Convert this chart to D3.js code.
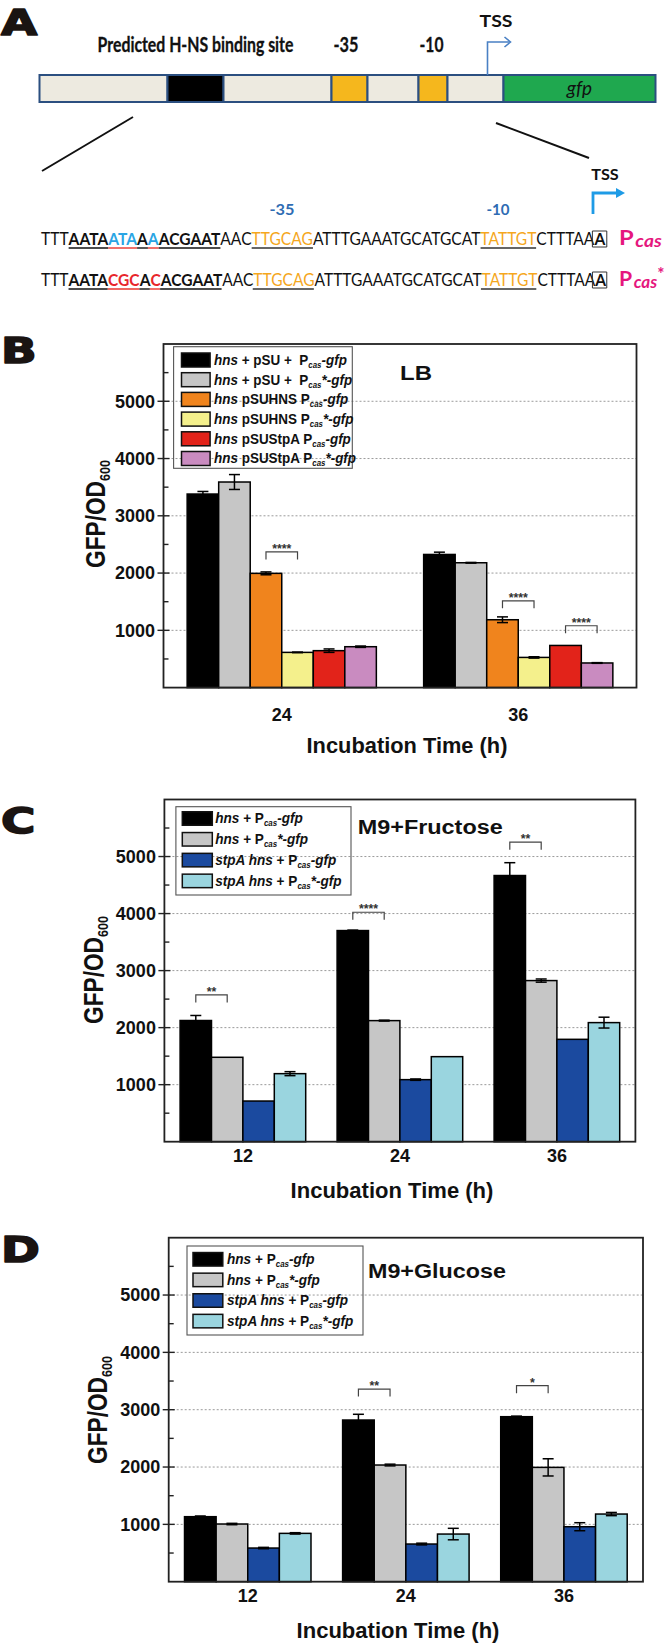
<!DOCTYPE html>
<html><head><meta charset="utf-8">
<script src="https://cdn.jsdelivr.net/npm/d3@7"></script>
<style>body{margin:0;background:#fff} svg{display:block} text{white-space:pre}</style>
</head><body><svg id="fig" width="666" height="1645"></svg>
<script>
// ================= DATA =================
// Panel A: promoter map (region lengths, arbitrary units)
const promoterParts   = ["spacer","hns","spacer","box35","spacer","box10","spacer","gfp"];
const promoterLengths = [128, 56, 108, 36, 51, 29, 56, 152];
const tssPosition = 448;
const sequenceWT = [["TTT","plain"],["AATA","site"],["ATA","siteWT"],["A","site"],["A","siteWT"],["ACGAAT","site"],
  ["AAC","plain"],["TTGCAG","motif"],["ATTTGAAATGCATGCAT","plain"],["TATTGT","motif"],["CTTTAA","plain"],["A","tss"]];
const sequenceMut = [["TTT","plain"],["AATA","site"],["CGC","siteMut"],["A","site"],["C","siteMut"],["ACGAAT","site"],
  ["AAC","plain"],["TTGCAG","motif"],["ATTTGAAATGCATGCAT","plain"],["TATTGT","motif"],["CTTTAA","plain"],["A","tss"]];

// Panel B: LB
const lbTimes = ["24","36"];
const lbStrains = ["<i>hns</i> + pSU +  P<sub>cas</sub><i>-gfp</i>","<i>hns</i> + pSU +  P<sub>cas</sub><i>*-gfp</i>",
  "<i>hns</i> pSUHNS P<sub>cas</sub><i>-gfp</i>","<i>hns</i> pSUHNS P<sub>cas</sub><i>*-gfp</i>",
  "<i>hns</i> pSUStpA P<sub>cas</sub><i>-gfp</i>","<i>hns</i> pSUStpA P<sub>cas</sub><i>*-gfp</i>"];
const lbMean = [[3380,3590,1995,615,645,714],[2325,2180,1185,527,736,430]];
const lbErr  = [[45,130,25,5,30,12],[40,6,50,12,0,6]];
const lbSig  = [[0,2,3,2370,"****"],[1,2,3,1516,"****"],[1,4,5,1080,"****"]];

// Panels C, D: M9
const m9Times = ["12","24","36"];
const m9Strains = ["<i>hns</i> + P<sub>cas</sub><i>-gfp</i>","<i>hns</i> + P<sub>cas</sub><i>*-gfp</i>",
  "<i>stpA hns</i> + P<sub>cas</sub><i>-gfp</i>","<i>stpA hns</i> + P<sub>cas</sub><i>*-gfp</i>"];
const fructoseMean = [[2125,1480,713,1193],[3702,2123,1088,1491],[4667,2825,1795,2088]];
const fructoseErr  = [[88,0,0,35],[8,8,12,0],[225,28,0,95]];
const fructoseSig  = [[0,0,1,2573,"**"],[1,0,1,4023,"****"],[2,0,1,5251,"**"]];
const glucoseMean = [[1134,1006,587,843],[2820,2035,657,831],[2878,1994,959,1180]];
const glucoseErr  = [[12,12,12,12],[100,15,15,100],[10,150,70,28]];
const glucoseSig  = [[1,0,1,3360,"**"],[2,0,1,3419,"*"]];

const yTicks = [1000,2000,3000,4000,5000];
const yMinorTicks = [500,1500,2500,3500,4500,5500];
const yDomain = [0,6000];

// ================= STYLE =================
const SANS = "'Liberation Sans', Arial, sans-serif";
const HUM = "Lato, 'Open Sans', sans-serif";
const partColor = {spacer:"#edeae0", hns:"#000000", box35:"#f5b71d", box10:"#f5b71d", gfp:"#1fa84f"};
const lbColors = ["#000000","#c6c6c6","#f0841d","#f4f08c","#e2231a","#c98bc0"];
const m9Colors = ["#000000","#c6c6c6","#1b4a9f","#9ad5df"];
const seqStyle = {
  plain:{c:"#111",b:false,u:null}, site:{c:"#111",b:true,u:"#111"},
  siteWT:{c:"#2aa5e4",b:true,u:"#e8342c"}, siteMut:{c:"#e8262b",b:true,u:"#e8342c"},
  motif:{c:"#f5a71d",b:false,u:"#333"}, tss:{c:"#111",b:true,u:null,box:true}
};

const svg = d3.select("#fig");

function squeeze(sel, k, ax, ay) {
  ay = ay || 0;
  sel.attr("transform", `translate(${ax},${ay}) scale(${k},1) translate(${-ax},${-ay})`);
}
function fitWidth(sel, target, ax) {
  const w = sel.node().getComputedTextLength();
  const k = target / w;
  squeeze(sel, k, ax);
  return k;
}
function addRich(t, markup, size, subSize, subDy) {
  const parts = markup.split(/(<i>.*?<\/i>|<sub>.*?<\/sub>)/).filter(s => s.length);
  let shifted = false;
  parts.forEach(p => {
    let s = p, it = false, sub = false;
    if (p.startsWith("<i>")) { s = p.slice(3, -4); it = true; }
    else if (p.startsWith("<sub>")) { s = p.slice(5, -6); it = true; sub = true; }
    const ts = t.append("tspan").text(s).attr("font-style", it ? "italic" : "normal")
      .attr("font-size", sub ? subSize : size);
    if (sub && !shifted) { ts.attr("dy", subDy); shifted = true; }
    else if (!sub && shifted) { ts.attr("dy", -subDy); shifted = false; }
  });
}
function panelLetter(letter, y) {
  const t = svg.append("text").attr("x", 1).attr("y", y).text(letter)
    .attr("font-family", "'DejaVu Sans', sans-serif").attr("font-weight", "bold").attr("font-size", 36)
    .attr("fill", "#1a1412").attr("stroke", "#1a1412").attr("stroke-width", 1.6).attr("stroke-linejoin", "round");
  squeeze(t, 1.3, 1, 0);
}

// ================= PANEL A =================
panelLetter("A", 35);
const ax = d3.scaleLinear().domain([0, d3.sum(promoterLengths)]).range([39.5, 655.5]);
const cum = d3.cumsum(promoterLengths);
const starts = promoterLengths.map((d, i) => cum[i] - d);
const gA = svg.append("g");
gA.selectAll("rect.part").data(promoterParts).join("rect").attr("class", "part")
  .attr("x", (d, i) => ax(starts[i])).attr("y", 75)
  .attr("width", (d, i) => ax(cum[i]) - ax(starts[i])).attr("height", 27)
  .attr("fill", d => partColor[d]).attr("stroke", "#2b4f80").attr("stroke-width", 2);
const mid = i => (ax(starts[i]) + ax(cum[i])) / 2;
gA.append("text").attr("x", mid(7)).attr("y", 95).attr("text-anchor", "middle").text("gfp")
  .attr("font-family", HUM).attr("font-style", "italic").attr("font-size", 19).attr("fill", "#111");
const topLabels = [[1, "Predicted H-NS binding site", 196, 0], [3, "-35", 25, -3.5], [5, "-10", 24, -1.5]];
topLabels.forEach(([i, s, w, off]) => {
  const cx = mid(i) + off;
  const t = gA.append("text").attr("x", cx).attr("y", 52).attr("text-anchor", "middle").text(s)
    .attr("font-family", HUM).attr("font-weight", "bold").attr("font-size", 20).attr("fill", "#111")
    .attr("stroke", "#111").attr("stroke-width", 0.3);
  fitWidth(t, w, cx);
});
// upper TSS arrow
const tx = ax(tssPosition);
gA.append("path").attr("d", `M${tx},75V42H${tx + 22}`).attr("fill", "none").attr("stroke", "#4a80c4").attr("stroke-width", 1.6);
gA.append("path").attr("d", `M${tx + 17},37L${tx + 23},42L${tx + 17},47`).attr("fill", "none").attr("stroke", "#4a80c4").attr("stroke-width", 1.6);
const tssU = gA.append("text").attr("x", 496).attr("y", 27).attr("text-anchor", "middle").text("TSS")
  .attr("font-family", HUM).attr("font-weight", "bold").attr("font-size", 17).attr("fill", "#111");
fitWidth(tssU, 33, 496);
// zoom lines
gA.append("line").attr("x1", 133).attr("y1", 117).attr("x2", 42).attr("y2", 171).attr("stroke", "#111").attr("stroke-width", 2);
gA.append("line").attr("x1", 496).attr("y1", 123).attr("x2", 589).attr("y2", 158).attr("stroke", "#111").attr("stroke-width", 2);
// lower TSS arrow
gA.append("path").attr("d", "M593,214V193H618").attr("fill", "none").attr("stroke", "#1e9be6").attr("stroke-width", 2.8);
gA.append("path").attr("d", "M616,188L625,193L616,198Z").attr("fill", "#1e9be6");
const tssL = gA.append("text").attr("x", 605).attr("y", 180).attr("text-anchor", "middle").text("TSS")
  .attr("font-family", HUM).attr("font-weight", "bold").attr("font-size", 16).attr("fill", "#111");
fitWidth(tssL, 27.5, 605);
[["-35", 282, 25], ["-10", 498, 23]].forEach(([s, x, w]) => {
  const t = gA.append("text").attr("x", x).attr("y", 215).attr("text-anchor", "middle").text(s)
    .attr("font-family", HUM).attr("font-weight", "bold").attr("font-size", 15).attr("fill", "#2e6cb3");
  fitWidth(t, w, x);
});

function seqLine(segs, baseline, star) {
  const g = svg.append("g");
  const t = g.append("text").attr("x", 41).attr("y", baseline)
    .attr("font-family", HUM).attr("font-size", 17.5);
  segs.forEach(([s, kind]) => t.append("tspan").text(s).attr("fill", seqStyle[kind].c)
    .attr("font-weight", seqStyle[kind].b ? "bold" : "normal"));
  const node = t.node();
  const natural = node.getComputedTextLength();
  let idx = 0;
  segs.forEach(([s, kind]) => {
    const a = node.getStartPositionOfChar(idx).x;
    const b = node.getEndPositionOfChar(idx + s.length - 1).x;
    const st = seqStyle[kind];
    if (st.u) g.append("line").attr("x1", a).attr("x2", b).attr("y1", baseline + 3).attr("y2", baseline + 3)
      .attr("stroke", st.u).attr("stroke-width", 1.4).attr("vector-effect", "non-scaling-stroke");
    if (st.box) g.append("rect").attr("x", a - 2).attr("y", baseline - 14).attr("width", b - a + 4).attr("height", 16)
      .attr("fill", "none").attr("stroke", "#333").attr("stroke-width", 1).attr("vector-effect", "non-scaling-stroke");
    idx += s.length;
  });
  squeeze(g, 564 / natural, 41);
  const p = svg.append("text").attr("x", 619).attr("y", baseline)
    .attr("font-family", HUM).attr("font-weight", "bold").attr("fill", "#e5177e");
  p.append("tspan").text("P").attr("font-size", 21);
  p.append("tspan").text("cas").attr("font-size", 17).attr("font-style", "italic").attr("dx", 1.5).attr("dy", 2);
  if (star) p.append("tspan").text("*").attr("font-size", 17).attr("dy", -8);
  fitWidth(p, star ? 44 : 41, 619);
}
seqLine(sequenceWT, 245, false);
seqLine(sequenceMut, 286, true);

// ================= BAR PANELS =================
function barPanel(cfg) {
  const {f, times, strains, mean, err, sig, colors, lg, title, xlab, xt, yt} = cfg;
  const g = svg.append("g");
  const x0 = d3.scaleBand().domain(times).range([f.l, f.r]).paddingInner(0.2).paddingOuter(0.1);
  const x1 = d3.scaleBand().domain(d3.range(colors.length)).range([0, x0.bandwidth()]);
  const y = d3.scaleLinear().domain(yDomain).range([f.b, f.t]);
  // grid
  g.selectAll("line.grid").data(yTicks).join("line").attr("class", "grid")
    .attr("x1", f.l).attr("x2", f.r).attr("y1", d => y(d)).attr("y2", d => y(d))
    .attr("stroke", "#9a9a9a").attr("stroke-width", 1).attr("stroke-dasharray", "2,2");
  // bars
  const flat = [];
  times.forEach((t, i) => colors.forEach((c, j) => flat.push({t, j, v: mean[i][j], e: err[i][j]})));
  g.selectAll("rect.bar").data(flat).join("rect").attr("class", "bar")
    .attr("x", d => x0(d.t) + x1(d.j)).attr("y", d => y(d.v))
    .attr("width", x1.bandwidth()).attr("height", d => y(0) - y(d.v))
    .attr("fill", d => colors[d.j]).attr("stroke", "#000").attr("stroke-width", 1.5);
  // error bars
  const eb = g.selectAll("g.err").data(flat.filter(d => d.e > 0)).join("g").attr("class", "err")
    .attr("stroke", "#000").attr("stroke-width", 1.5);
  const cxf = d => x0(d.t) + x1(d.j) + x1.bandwidth() / 2;
  eb.append("line").attr("x1", cxf).attr("x2", cxf).attr("y1", d => y(d.v - d.e)).attr("y2", d => y(d.v + d.e));
  eb.append("line").attr("x1", d => cxf(d) - 5.5).attr("x2", d => cxf(d) + 5.5).attr("y1", d => y(d.v + d.e)).attr("y2", d => y(d.v + d.e));
  eb.append("line").attr("x1", d => cxf(d) - 5.5).attr("x2", d => cxf(d) + 5.5).attr("y1", d => y(d.v - d.e)).attr("y2", d => y(d.v - d.e));
  // significance brackets
  sig.forEach(([gi, a, b, v, lab]) => {
    const xa = x0(times[gi]) + x1(a) + x1.bandwidth() / 2, xb = x0(times[gi]) + x1(b) + x1.bandwidth() / 2;
    const yy = y(v);
    g.append("path").attr("d", `M${xa},${yy + 7.5}V${yy}H${xb}V${yy + 7.5}`)
      .attr("fill", "none").attr("stroke", "#444").attr("stroke-width", 1.2);
    const t = g.append("text").attr("x", (xa + xb) / 2).attr("y", yy + 1).attr("text-anchor", "middle").text(lab)
      .attr("font-family", SANS).attr("font-weight", "bold").attr("font-size", 13).attr("fill", "#333");
    squeeze(t, 0.95, (xa + xb) / 2);
  });
  // frame
  g.append("rect").attr("x", f.l).attr("y", f.t).attr("width", f.r - f.l).attr("height", f.b - f.t)
    .attr("fill", "none").attr("stroke", "#222").attr("stroke-width", 1.8);
  // ticks
  g.selectAll("line.maj").data(yTicks).join("line").attr("class", "maj")
    .attr("x1", f.l - 6).attr("x2", f.l + 6).attr("y1", d => y(d)).attr("y2", d => y(d))
    .attr("stroke", "#222").attr("stroke-width", 1.4);
  g.selectAll("line.min").data(yMinorTicks).join("line").attr("class", "min")
    .attr("x1", f.l).attr("x2", f.l + 5).attr("y1", d => y(d)).attr("y2", d => y(d))
    .attr("stroke", "#222").attr("stroke-width", 1.4);
  // y axis labels via d3 axis
  const ya = g.append("g").attr("transform", `translate(${f.l},0)`)
    .call(d3.axisLeft(y).tickValues(yTicks).tickFormat(d3.format("d")).tickSize(0).tickPadding(8.5));
  ya.select(".domain").remove();
  ya.selectAll("text").attr("font-family", SANS).attr("font-weight", "bold").attr("font-size", 18).attr("fill", "#111");
  // x axis labels
  const xa = g.append("g").attr("transform", `translate(0,${f.b})`)
    .call(d3.axisBottom(x0).tickSize(0).tickPadding(xlab.pad));
  xa.select(".domain").remove();
  xa.selectAll("text").attr("font-family", SANS).attr("font-weight", "bold").attr("font-size", 18).attr("fill", "#111");
  // x title
  const xtt = g.append("text").attr("x", xt.x).attr("y", xt.y).attr("text-anchor", "middle").text("Incubation Time (h)")
    .attr("font-family", SANS).attr("font-weight", "bold").attr("font-size", 22).attr("fill", "#111");
  fitWidth(xtt, xt.w, xt.x);
  // y title
  const ytt = g.append("text").attr("text-anchor", "middle")
    .attr("font-family", SANS).attr("font-weight", "bold").attr("fill", "#111");
  ytt.append("tspan").text("GFP/OD").attr("font-size", 27);
  ytt.append("tspan").text("600").attr("font-size", 15).attr("dy", 5);
  const wy = ytt.node().getComputedTextLength();
  ytt.attr("transform", `translate(${yt.x},${yt.y}) rotate(-90) scale(${108 / wy},1)`);
  // legend
  g.append("rect").attr("x", lg.l).attr("y", lg.t).attr("width", lg.r - lg.l).attr("height", lg.b - lg.t)
    .attr("fill", "none").attr("stroke", "#555").attr("stroke-width", 1.1);
  let k = null;
  strains.forEach((s, i) => {
    const cy = lg.row0 + i * lg.step;
    g.append("rect").attr("x", lg.sx).attr("y", cy - lg.sh / 2).attr("width", lg.sw).attr("height", lg.sh)
      .attr("fill", colors[i]).attr("stroke", "#111").attr("stroke-width", 1.5);
    const t = g.append("text").attr("x", lg.tx).attr("y", cy + 5)
      .attr("font-family", SANS).attr("font-weight", "bold").attr("fill", "#111");
    addRich(t, s, 14.5, 8.5, 3);
    if (k === null) k = fitWidth(t, lg.w0, lg.tx); else squeeze(t, k, lg.tx);
  });
  // title
  const tt = g.append("text").attr("x", title.x).attr("y", title.y).text(title.text)
    .attr("font-family", SANS).attr("font-weight", "bold").attr("font-size", 21).attr("fill", "#111");
  fitWidth(tt, title.w, title.x);
}

panelLetter("B", 363);
barPanel({
  f: {l: 163.5, r: 636.5, t: 344, b: 687.6}, times: lbTimes, strains: lbStrains, mean: lbMean, err: lbErr, sig: lbSig,
  colors: lbColors,
  lg: {l: 173.6, r: 352.3, t: 346.7, b: 468.3, row0: 360, step: 19.7, sx: 181.5, sw: 28.6, sh: 14, tx: 214, w0: 133},
  title: {text: "LB", x: 400, y: 380, w: 32}, xlab: {pad: 21}, xt: {x: 407, y: 753, w: 201}, yt: {x: 105, y: 514}
});

panelLetter("C", 833);
barPanel({
  f: {l: 164.4, r: 635.4, t: 799.5, b: 1141.7}, times: m9Times, strains: m9Strains, mean: fructoseMean, err: fructoseErr,
  sig: fructoseSig, colors: m9Colors,
  lg: {l: 175.9, r: 351, t: 806.7, b: 895, row0: 818.5, step: 20.8, sx: 182.3, sw: 30, sh: 13.5, tx: 215.2, w0: 87.7},
  title: {text: "M9+Fructose", x: 357.8, y: 834, w: 145}, xlab: {pad: 8}, xt: {x: 392, y: 1198, w: 203}, yt: {x: 103, y: 970}
});

panelLetter("D", 1262);
barPanel({
  f: {l: 168.7, r: 643, t: 1237.7, b: 1581.7}, times: m9Times, strains: m9Strains, mean: glucoseMean, err: glucoseErr,
  sig: glucoseSig, colors: m9Colors,
  lg: {l: 187, r: 363, t: 1246, b: 1335, row0: 1259.3, step: 20.6, sx: 193, sw: 29.8, sh: 13.5, tx: 227, w0: 87.7},
  title: {text: "M9+Glucose", x: 368, y: 1278.3, w: 138}, xlab: {pad: 8}, xt: {x: 398, y: 1638, w: 203}, yt: {x: 107, y: 1410}
});
</script>
</body></html>
